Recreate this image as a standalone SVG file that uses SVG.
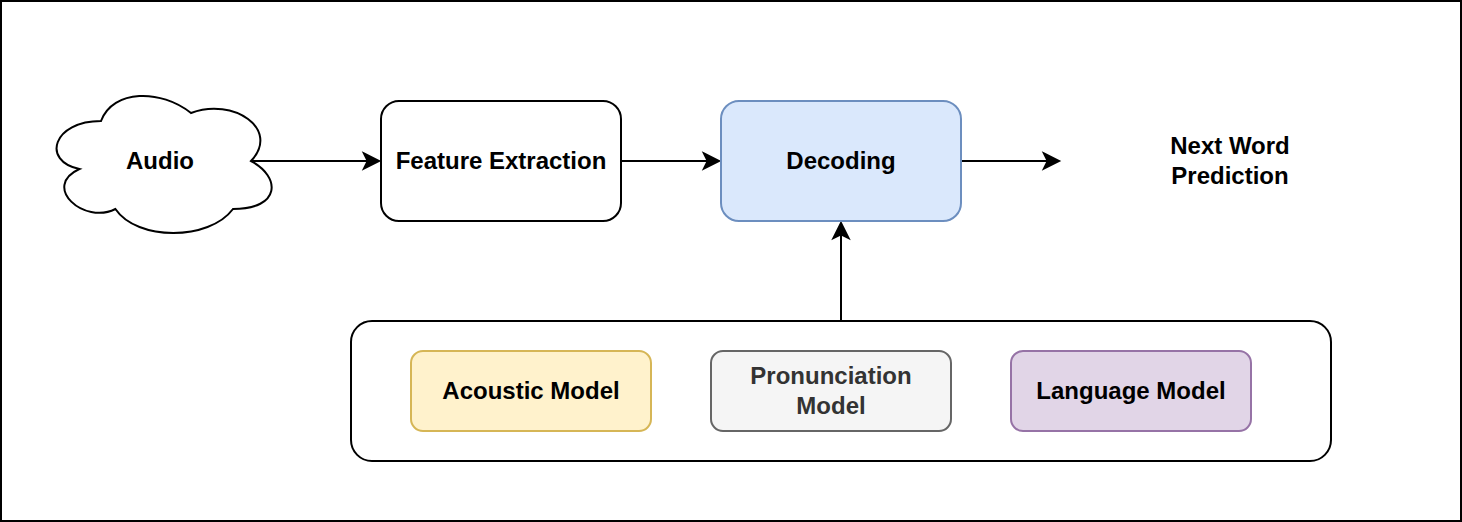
<svg xmlns="http://www.w3.org/2000/svg" width="1462" height="522" viewBox="0 0 1462 522">
<style>
  text { font-family: "Liberation Sans", Arial, Helvetica, sans-serif; font-weight: bold; font-size: 24px; text-anchor: middle; fill: #000000; }
  .box { stroke-width: 2; }
  .edge { stroke: #000000; stroke-width: 2; fill: none; }
</style>
<defs>
  <marker id="arrow" markerUnits="userSpaceOnUse" markerWidth="20" markerHeight="20" refX="15" refY="7.5" orient="auto" overflow="visible">
    <path d="M0,0 L15,7.5 L0,15 L3.75,7.5 Z" fill="#000000" stroke="#000000" stroke-width="2" stroke-linejoin="miter"/>
  </marker>
</defs>
<rect x="1" y="1" width="1460" height="520" fill="#ffffff" stroke="#000000" stroke-width="2"/>

<g id="container">
  <rect class="box" x="351" y="321" width="980" height="140" rx="21" ry="21" fill="#ffffff" stroke="#000000"/>
</g>

<g id="connectors">
  <path class="edge" d="M251,161 L379,161" marker-end="url(#arrow)"/>
  <path class="edge" d="M621,161 L719,161" marker-end="url(#arrow)"/>
  <path class="edge" d="M961,161 L1059,161" marker-end="url(#arrow)"/>
  <path class="edge" d="M841,321 L841,223" marker-end="url(#arrow)"/>
</g>

<g id="audio">
  <path class="box" fill="#ffffff" stroke="#000000" d="M101,121 C53,121 41,161 79.4,169 C41,186.6 84.2,225 115.4,209 C137,241 209,241 233,209 C281,209 281,177 251,161 C281,129 233,97 191,113 C161,89 113,89 101,121 Z"/>
  <text x="160" y="168.5">Audio</text>
</g>

<g id="feature-extraction">
  <rect class="box" x="381" y="101" width="240" height="120" rx="18" ry="18" fill="#ffffff" stroke="#000000"/>
  <text x="501" y="168.5">Feature Extraction</text>
</g>

<g id="decoding">
  <rect class="box" x="721" y="101" width="240" height="120" rx="18" ry="18" fill="#dae8fc" stroke="#6c8ebf"/>
  <text x="841" y="168.5">Decoding</text>
</g>

<g id="next-word-prediction">
  <text x="1230" y="153.5">Next Word</text>
  <text x="1230" y="183.5">Prediction</text>
</g>

<g id="acoustic-model">
  <rect class="box" x="411" y="351" width="240" height="80" rx="12" ry="12" fill="#fff2cc" stroke="#d6b656"/>
  <text x="531" y="398.5">Acoustic Model</text>
</g>

<g id="pronunciation-model">
  <rect class="box" x="711" y="351" width="240" height="80" rx="12" ry="12" fill="#f5f5f5" stroke="#666666"/>
  <text x="831" y="384" style="fill:#333333">Pronunciation</text>
  <text x="831" y="414" style="fill:#333333">Model</text>
</g>

<g id="language-model">
  <rect class="box" x="1011" y="351" width="240" height="80" rx="12" ry="12" fill="#e1d5e7" stroke="#9673a6"/>
  <text x="1131" y="398.5">Language Model</text>
</g>
</svg>
